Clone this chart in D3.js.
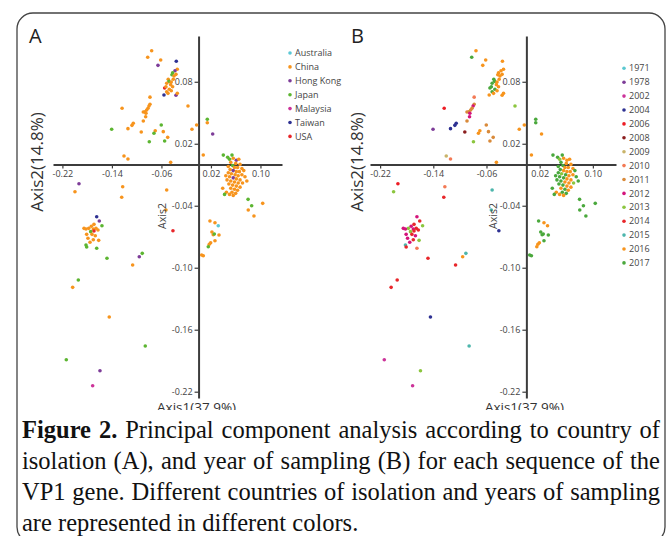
<!DOCTYPE html>
<html>
<head>
<meta charset="utf-8">
<script src="https://cdn.jsdelivr.net/npm/d3@7"></script>
<style>
  body { margin: 0; background: #fff; }
  text { font-family: "Open Sans", sans-serif; }
</style>
</head>
<body>
<svg id="fig" width="672" height="536"></svg>
<script>
var countries = ["Australia", "China", "Hong Kong", "Japan", "Malaysia", "Taiwan", "USA"];
var countryColors = ["#5bc8d6", "#f7941d", "#7d3c98", "#5cb531", "#cc3399", "#2e3192", "#e8262a"];
var years = [1971, 1978, 2002, 2004, 2006, 2008, 2009, 2010, 2011, 2012, 2013, 2014, 2015, 2016, 2017];
var yearColors = ["#5bc8d0", "#7d3c98", "#cc3399", "#2e3192", "#ed1c24", "#8b1e1e", "#c9b46a", "#f37a55",
                  "#d98a3a", "#d4147b", "#8cc63f", "#e8262a", "#4db6ac", "#f7941d", "#4aa83c"];
var xTicks = [-0.22, -0.14, -0.06, 0.02, 0.10];
var yTicks = [0.08, 0.02, -0.04, -0.10, -0.16, -0.22];

// [axis1, axis2, country, year]
var topCluster = [
  [-0.0758, 0.110, "China", 2016], [-0.0822, 0.1037, "China", 2017], [-0.0612, 0.1011, "China", 2016],
  [-0.0656, 0.0959, "Hong Kong", 2016], [-0.0360, 0.0998, "Taiwan", 2016], [-0.0344, 0.0921, "China", 2016],
  [-0.0381, 0.0907, "Hong Kong", 2016], [-0.0419, 0.0888, "Japan", 2016], [-0.0430, 0.0868, "Japan", 2016],
  [-0.0397, 0.0856, "China", 2016], [-0.0365, 0.0872, "China", 2016], [-0.0409, 0.0824, "China", 2016],
  [-0.0490, 0.0824, "China", 2017], [-0.0478, 0.0804, "Japan", 2017], [-0.0441, 0.0798, "China", 2016],
  [-0.0515, 0.0785, "China", 2017], [-0.0451, 0.0772, "China", 2016], [-0.0419, 0.0752, "China", 2016],
  [-0.0473, 0.0727, "China", 2017], [-0.0441, 0.0713, "China", 2016], [-0.0515, 0.0704, "China", 2017],
  [-0.0548, 0.0740, "USA", 2017], [-0.0559, 0.0672, "Taiwan", 2016], [-0.0365, 0.0669, "Hong Kong", 2016],
  [-0.0344, 0.0688, "China", 2016], [-0.0527, 0.0752, "China", 2017], [-0.0494, 0.0688, "China", 2016]
];

var chainPoints = [
  [-0.0785, 0.0651, "China", 2010], [-0.0785, 0.0582, "China", 2011], [-0.0801, 0.0565, "China", 2012],
  [-0.0817, 0.0543, "China", 2011], [-0.0838, 0.0527, "China", 2011], [-0.0866, 0.0510, "China", 2011],
  [-0.0893, 0.0507, "China", 2011], [-0.0850, 0.0495, "China", 2012], [-0.0855, 0.0462, "China", 2012],
  [-0.0893, 0.0420, "China", 2011], [-0.1236, 0.0543, "China", 2006], [-0.1055, 0.0398, "China", 2004],
  [-0.1076, 0.0378, "China", 2004], [-0.1141, 0.0346, "China", 2004], [-0.1404, 0.0340, "Japan", 1978],
  [-0.0926, 0.0314, "China", 2008], [-0.0603, 0.0381, "Japan", 2011], [-0.0700, 0.0326, "China", 2016],
  [-0.0721, 0.0301, "Japan", 2016], [-0.0570, 0.0317, "China", 2011], [-0.0499, 0.0262, "China", 2011],
  [-0.0796, 0.0220, "Japan", 2013], [-0.0548, 0.0227, "Japan", 2011], [-0.0171, 0.0566, "China", 2013],
  [-0.0107, 0.0340, "China", 2016], [-0.0031, 0.0381, "China", 2016], [0.0141, 0.0437, "Japan", 2017],
  [0.0141, 0.0404, "China", 2017], [0.0228, 0.0294, "Hong Kong", 2016], [0.0076, 0.0091, "China", 2016],
  [-0.1205, 0.0081, "China", 2009], [-0.1141, 0.0052, "China", 2010], [-0.0451, 0.0020, "China", 2016]
];

var rightCluster = [
  [0.040, 0.009, "Japan", 2017], [0.047, 0.007, "Japan", 2017], [0.050, 0.005, "Japan", 2013],
  [0.061, 0.004, "Hong Kong", 2016], [0.056, 0.006, "China", 2016], [0.065, 0.005, "China", 2016],
  [0.052, 0.002, "China", 2017], [0.060, 0.001, "China", 2016], [0.067, 0.000, "China", 2016],
  [0.055, -0.001, "Japan", 2017], [0.048, -0.002, "China", 2017], [0.058, -0.003, "China", 2016],
  [0.063, -0.003, "China", 2016], [0.070, -0.004, "China", 2016], [0.051, -0.005, "China", 2017],
  [0.056, -0.006, "Hong Kong", 2016], [0.061, -0.007, "China", 2016], [0.066, -0.007, "China", 2016],
  [0.048, -0.008, "China", 2017], [0.053, -0.009, "China", 2013], [0.059, -0.010, "China", 2017],
  [0.064, -0.011, "China", 2016], [0.070, -0.010, "China", 2016], [0.075, -0.012, "China", 2017],
  [0.050, -0.012, "China", 2017], [0.056, -0.013, "Hong Kong", 2017], [0.061, -0.014, "China", 2016],
  [0.067, -0.015, "China", 2016], [0.046, -0.015, "China", 2017], [0.052, -0.016, "China", 2017],
  [0.058, -0.017, "China", 2016], [0.064, -0.018, "China", 2016], [0.071, -0.018, "China", 2013],
  [0.049, -0.019, "China", 2017], [0.055, -0.020, "China", 2017], [0.061, -0.021, "China", 2016],
  [0.067, -0.022, "China", 2016], [0.052, -0.023, "China", 2016], [0.058, -0.024, "China", 2017],
  [0.063, -0.025, "China", 2016], [0.039, -0.023, "China", 2017], [0.045, -0.027, "China", 2016],
  [0.054, -0.027, "China", 2017], [0.060, -0.028, "China", 2017], [0.042, -0.029, "Japan", 2017],
  [0.050, -0.029, "China", 2016], [0.056, -0.030, "China", 2016], [0.073, -0.006, "China", 2017],
  [0.078, -0.016, "China", 2017], [0.044, -0.011, "China", 2017], [0.054, 0.009, "Japan", 2017],
  [0.0800, -0.0338, "Japan", 2017], [0.0858, -0.0400, "Japan", 2017], [0.1036, -0.0377, "China", 2017],
  [0.0803, -0.0441, "China", 2017], [0.0895, -0.0500, "China", 2017]
];

var nearAxis = [
  [0.0184, -0.0548, "China", 2017], [0.0265, -0.0564, "China", 2016], [0.0318, -0.0593, "Australia", 2016],
  [0.0216, -0.0654, "China", 2017], [0.0237, -0.0681, "China", 2017], [0.0254, -0.0674, "Japan", 2017],
  [0.0330, -0.0683, "China", 2017], [0.0265, -0.0739, "China", 2017], [0.0195, -0.0758, "China", 2016],
  [0.0173, -0.0773, "China", 2016], [0.0157, -0.0797, "Japan", 2016], [0.0050, -0.0877, "China", 2017],
  [0.0076, -0.0884, "China", 2017]
];

var lowerLeft = [
  [-0.1646, -0.0506, "Taiwan", 2012], [-0.1604, -0.0548, "Hong Kong", 2014], [-0.1561, -0.0593, "Japan", 2013],
  [-0.1690, -0.0580, "China", 2014], [-0.1733, -0.0599, "China", 2012], [-0.1775, -0.0619, "China", 2013],
  [-0.1819, -0.0625, "China", 2012], [-0.1851, -0.0619, "China", 2012], [-0.1657, -0.0619, "China", 2014],
  [-0.1701, -0.0625, "China", 2012], [-0.1625, -0.0635, "China", 2014], [-0.1690, -0.0645, "USA", 2014],
  [-0.1743, -0.0651, "Japan", 2013], [-0.1808, -0.0677, "China", 2012], [-0.1722, -0.0677, "China", 2014],
  [-0.1669, -0.0690, "China", 2012], [-0.1787, -0.0715, "China", 2012], [-0.1701, -0.0729, "China", 2014],
  [-0.1614, -0.0735, "China", 2013], [-0.1754, -0.0754, "China", 2012], [-0.1819, -0.0780, "Japan", 2015],
  [-0.1808, -0.0800, "Japan", 2014], [-0.1646, -0.0812, "Japan", 2010]
];

var scattered = [
  [-0.1932, -0.0187, "Hong Kong", 2006], [-0.1997, -0.0264, "China", 2013], [-0.1226, -0.0216, "China", 2010],
  [-0.1242, -0.0318, "China", 2014], [-0.0515, -0.0248, "China", 2015], [-0.0527, -0.0441, "China", 2015],
  [-0.0414, -0.0642, "USA", 2004], [-0.1480, -0.0909, "Japan", 2014], [-0.1065, -0.0974, "China", 2014],
  [-0.0958, -0.0894, "Hong Kong", 2016], [-0.0910, -0.0861, "Japan", 2015], [-0.1943, -0.1119, "Japan", 2014],
  [-0.2034, -0.1190, "China", 2014], [-0.1443, -0.1477, "China", 2004], [-0.0861, -0.1758, "Japan", 2015],
  [-0.2137, -0.1891, "Japan", 2002], [-0.1593, -0.1997, "Hong Kong", 2013], [-0.1711, -0.2142, "Malaysia", 2002]
];

var points = topCluster.concat(chainPoints, rightCluster, nearAxis, lowerLeft, scattered);

var captionLines = [
  ["Figure 2.", " Principal component analysis according to country of"],
  ["", "isolation (A), and year of sampling (B) for each sequence of the"],
  ["", "VP1 gene. Different countries of isolation and years of sampling"],
  ["", "are represented in different colors."]
];

var svg = d3.select("#fig");
var countryColor = d3.scaleOrdinal().domain(countries).range(countryColors);
var yearColor = d3.scaleOrdinal().domain(years).range(yearColors);
var fmt = function (d) { return d3.format(".2f")(d).replace("\u2212", "-"); };

// the figure is cut just under the axis titles, where the caption begins
svg.append("clipPath").attr("id", "plotclip")
  .append("rect").attr("x", 0).attr("y", 0).attr("width", 672).attr("height", 410);

var y = d3.scaleLinear().domain([0.1243, -0.2261]).range([36, 398]);

var panels = [
  { letter: "A", range: [53, 282], letterX: 29, big: 36.5, small: 162, legendX: 290, legendY: 53,
    keys: countries, color: function (p) { return countryColor(p[2]); }, keyColor: countryColor },
  { letter: "B", range: [370, 616], letterX: 351, big: 357, small: 493, legendX: 624, legendY: 68.3,
    keys: years, color: function (p) { return yearColor(p[3]); }, keyColor: yearColor }
];

panels.forEach(function (pn) {
  var x = d3.scaleLinear().domain([-0.2352, 0.1348]).range(pn.range);
  var g = svg.append("g").attr("clip-path", "url(#plotclip)");

  var xa = g.append("g").attr("transform", "translate(0," + y(0) + ")")
    .call(d3.axisBottom(x).tickValues(xTicks).tickFormat(fmt).tickSize(4).tickSizeOuter(0).tickPadding(2));
  var ya = g.append("g").attr("transform", "translate(" + x(0) + ",0)")
    .call(d3.axisLeft(y).tickValues(yTicks).tickFormat(fmt).tickSize(4).tickSizeOuter(0).tickPadding(2));
  [xa, ya].forEach(function (a) {
    a.select(".domain").attr("stroke", "#3c3c3c").attr("stroke-width", 2);
    a.selectAll(".tick line").attr("stroke", "#3c3c3c").attr("stroke-width", 1.2);
    a.selectAll(".tick text").attr("fill", "#444").style("font-size", "9px")
      .style("font-family", "'Open Sans', sans-serif");
  });

  g.selectAll("circle.pt").data(points).enter().append("circle")
    .attr("class", "pt")
    .attr("cx", function (p) { return x(p[0]); })
    .attr("cy", function (p) { return y(p[1]); })
    .attr("r", 1.8)
    .attr("fill", pn.color);

  g.append("text").attr("x", pn.letterX).attr("y", 43)
    .style("font-size", "20px").attr("fill", "#222").text(pn.letter);

  g.append("text").attr("transform", "translate(" + (pn.big + 6) + ",162) rotate(-90)")
    .attr("text-anchor", "middle").style("font-size", "17px").attr("fill", "#333")
    .text("Axis2(14.8%)");

  g.append("text").attr("transform", "translate(" + (pn.small + 4) + ",216) rotate(-90)")
    .attr("text-anchor", "middle").style("font-size", "10.5px").attr("fill", "#444")
    .text("Axis2");

  g.append("text").attr("x", x(0) - 2).attr("y", 411.5)
    .attr("text-anchor", "middle").style("font-size", "13.5px").attr("fill", "#333")
    .text("Axis1(37.9%)");

  var lg = g.append("g");
  pn.keys.forEach(function (k, i) {
    var ly = pn.legendY + i * 13.9;
    lg.append("circle").attr("cx", pn.legendX).attr("cy", ly).attr("r", 1.8).attr("fill", pn.keyColor(k));
    lg.append("text").attr("x", pn.legendX + 5).attr("y", ly).attr("dy", "0.35em")
      .style("font-size", "9px").attr("fill", "#444").text(k);
  });
});

svg.append("rect").attr("x", 17).attr("y", 13).attr("width", 648).attr("height", 530)
  .attr("rx", 16).attr("fill", "none").attr("stroke", "#444").attr("stroke-width", 1.3);

captionLines.forEach(function (ln, i) {
  var t = svg.append("text").attr("x", 22).attr("y", 438 + i * 31)
    .style("font-family", "'Liberation Serif', 'Times New Roman', serif")
    .style("font-size", "24.5px").attr("fill", "#111");
  if (ln[0]) t.append("tspan").style("font-weight", "bold").text(ln[0]);
  t.append("tspan").text(ln[1]);
  if (i < captionLines.length - 1) {
    // justify like the printed caption: spread the spare width over the word gaps
    var spaces = (ln[0] + ln[1]).split(" ").length - 1;
    var spare = 638 - t.node().getComputedTextLength();
    t.style("word-spacing", (spare / spaces) + "px");
  }
});
</script>
</body>
</html>
